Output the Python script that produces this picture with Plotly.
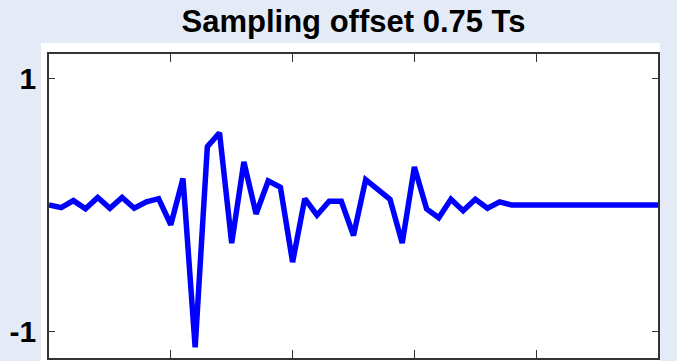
import plotly.graph_objects as go

# sample index and signal values
samples = list(range(0, 51))
signal = [0.0, -0.02, 0.035, -0.03, 0.06, -0.025, 0.06, -0.025, 0.025, 0.05,
          -0.155, 0.21, -1.12, 0.46, 0.57, -0.30, 0.34, -0.07, 0.19, 0.14,
          -0.45, 0.05, -0.08, 0.03, 0.03, -0.24, 0.20, 0.12, 0.045, -0.30,
          0.30, -0.03, -0.10, 0.045, -0.045, 0.045, -0.025, 0.025, 0.0, 0.0,
          0.0, 0.0, 0.0, 0.0, 0.0, 0.0, 0.0, 0.0, 0.0, 0.0, 0.0]
x_ticks = [10, 20, 30, 40]
y_ticks = [-1, 1]
y_tick_labels = ["-1", "1"]
title_text = "Sampling offset 0.75 Ts"

W, H = 677, 361
L, R, T, B = 49, 19, 54, 3
pw, ph = W - L - R, H - T - B

fig = go.Figure()
fig.add_trace(go.Scatter(
    x=samples, y=signal, mode="lines",
    line=dict(color="#0000ff", width=5.5),
    showlegend=False, hoverinfo="skip",
))

# white figure area behind the axes
fig.add_shape(type="rect", xref="paper", yref="paper", layer="below",
              x0=(41 - L) / pw, x1=(660 - L) / pw,
              y0=-(B + 2) / ph, y1=1 + (54 - 43) / ph,
              fillcolor="white", line=dict(width=0))

axis_common = dict(
    showline=True, linecolor="#333333", linewidth=1.5, mirror="ticks",
    ticks="inside", tickcolor="#333333", tickwidth=1.2,
    showgrid=False, zeroline=False, automargin=False,
)

fig.update_layout(
    width=W, height=H,
    margin=dict(l=L, r=R, t=T, b=B, pad=0, autoexpand=False),
    paper_bgcolor="#e4ebf6",
    plot_bgcolor="white",
    title=dict(text=title_text, x=(L + pw / 2) / W, xanchor="center",
               y=1 - 21 / H, yanchor="middle", automargin=False,
               font=dict(family="Liberation Sans, Arial, sans-serif", size=31,
                         color="black", weight="bold")),
    xaxis=dict(range=[0, 50], tickvals=x_ticks, showticklabels=False,
               ticklen=8, **axis_common),
    yaxis=dict(range=[-1.205, 1.19], tickvals=y_ticks, ticktext=y_tick_labels,
               ticklen=6, ticklabelstandoff=5,
               tickfont=dict(family="Liberation Sans, Arial, sans-serif",
                             size=30, color="black", weight="bold"),
               **axis_common),
)

fig.write_html(
    "out.html",
    config={"displayModeBar": False},
    post_script="document.body.style.margin='0';document.body.style.background='#e4ebf6';",
)
